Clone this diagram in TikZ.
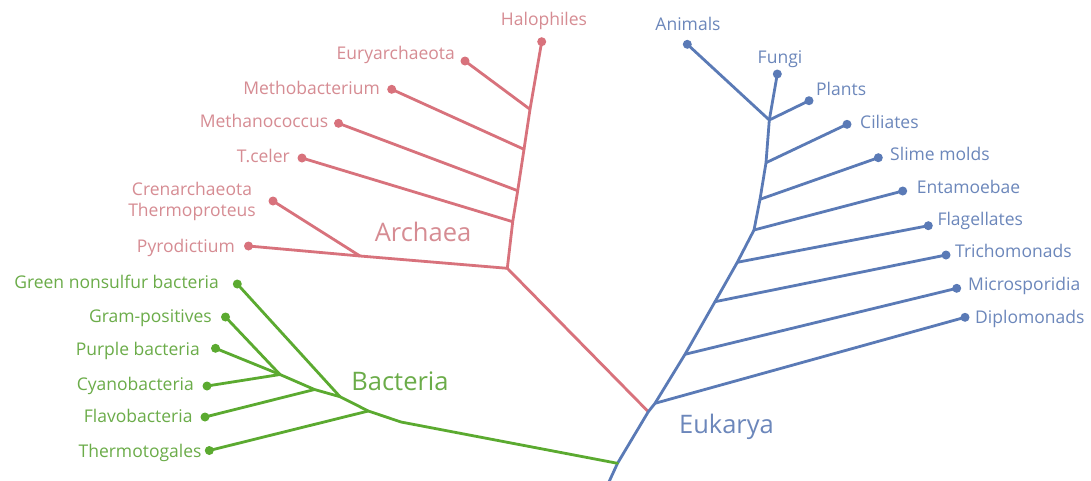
\documentclass[tikz,border=0pt]{standalone}
\usepackage{fontspec}
\setmainfont{Open Sans}
\definecolor{arc}{HTML}{D8727C}
\definecolor{arct}{HTML}{D68C93}
\definecolor{euk}{HTML}{5A7AB6}
\definecolor{eukt}{HTML}{6C87BB}
\definecolor{bac}{HTML}{5BAA30}
\definecolor{bact}{HTML}{6BAC49}
\begin{document}
\begin{tikzpicture}[x=1pt,y=-1pt,
  dot/.style={circle,fill,inner sep=0pt,minimum size=9pt},
  branch/.style={line width=2.8pt,line join=round,line cap=round},
  lbl/.style={font=\fontsize{17.5}{21}\selectfont,inner sep=0pt,text height=12pt,text depth=0pt},
  big/.style={font=\fontsize{25.5}{30}\selectfont,inner sep=0pt}]
\useasboundingbox[fill=white] (0,0) rectangle (1091,480);

% ---------------- Archaea ----------------
\begin{scope}[color=arc]
\node[dot] (halD) at (541.7,41.7) {};
\node[dot] (euryD) at (465,61) {};
\node[dot] (methoD) at (391.7,89.3) {};
\node[dot] (methaD) at (338.5,123.3) {};
\node[dot] (tcD) at (302,158) {};
\node[dot] (crenD) at (273,201) {};
\node[dot] (pyroD) at (248.5,246) {};
\coordinate (aE) at (530,109.3);
\coordinate (aM) at (524,149.3);
\coordinate (aMe) at (517.7,190.7);
\coordinate (aT) at (512.7,221.7);
\coordinate (aB) at (507.3,268.3);
\coordinate (aP) at (360,256);
\coordinate (eA) at (648.3,411.7);
\draw[branch] (halD.center) -- (aE) -- (aM) -- (aMe) -- (aT) -- (aB) -- (eA);
\draw[branch] (euryD.center) -- (aE);
\draw[branch] (methoD.center) -- (aM);
\draw[branch] (methaD.center) -- (aMe);
\draw[branch] (tcD.center) -- (aT);
\draw[branch] (pyroD.center) -- (aP) -- (aB);
\draw[branch] (crenD.center) -- (aP);
\end{scope}
\begin{scope}[color=arct]
\node[lbl] (halL) at (544,19.3) {Halophiles};
\node[lbl,anchor=east] (euryL) at (455,53) {Euryarchaeota};
\node[lbl,anchor=east] (methoL) at (380,88.3) {Methobacterium};
\node[lbl,anchor=east] (methaL) at (328.3,121.7) {Methanococcus};
\node[lbl,anchor=east] (tcL) at (290,156) {T.celer};
\node[font=\fontsize{17.5}{21}\selectfont,inner sep=0pt,align=center] (crenL) at (192,201) {Crenarchaeota\\Thermoproteus};
\node[lbl,anchor=east] (pyroL) at (235,246) {Pyrodictium};
\node[big] (archL) at (423,232) {Archaea};
\end{scope}

% ---------------- Eukarya ----------------
\begin{scope}[color=euk]
\node[dot] (animD) at (687.3,44.3) {};
\node[dot] (fungD) at (777.3,74) {};
\node[dot] (plantD) at (809,100.7) {};
\node[dot] (cilD) at (847,124.3) {};
\node[dot] (slimeD) at (878.3,157.7) {};
\node[dot] (entD) at (902.7,191) {};
\node[dot] (flagD) at (928.3,225.7) {};
\node[dot] (trichD) at (946,255) {};
\node[dot] (microD) at (956.7,288.3) {};
\node[dot] (diploD) at (965,317.3) {};
\coordinate (eBot) at (608,484);
\coordinate (eB) at (617.5,463.3);
\coordinate (eD) at (655,403.3);
\coordinate (eMi) at (685,354.3);
\coordinate (eT) at (715,301.7);
\coordinate (eF) at (737.3,262.3);
\coordinate (eEn) at (754,230);
\coordinate (eS) at (760,199.3);
\coordinate (eC) at (766,162.7);
\coordinate (eAn) at (769.3,120);
\draw[branch] (eBot) -- (eB) -- (eA) -- (eD) -- (eMi) -- (eT) -- (eF) -- (eEn) -- (eS) -- (eC) -- (eAn) -- (fungD.center);
\draw[branch] (animD.center) -- (eAn);
\draw[branch] (plantD.center) -- (eAn);
\draw[branch] (cilD.center) -- (eC);
\draw[branch] (slimeD.center) -- (eS);
\draw[branch] (entD.center) -- (eEn);
\draw[branch] (flagD.center) -- (eF);
\draw[branch] (trichD.center) -- (eT);
\draw[branch] (microD.center) -- (eMi);
\draw[branch] (diploD.center) -- (eD);
\end{scope}
\begin{scope}[color=eukt]
\node[lbl] (animL) at (688,24.5) {Animals};
\node[lbl] (fungL) at (780,57.3) {Fungi};
\node[lbl,anchor=west] (plantL) at (816,89.3) {Plants};
\node[lbl,anchor=west] (cilL) at (860,122.7) {Ciliates};
\node[lbl,anchor=west] (slimeL) at (890,154.3) {Slime molds};
\node[lbl,anchor=west] (entL) at (916.7,187.3) {Entamoebae};
\node[lbl,anchor=west] (flagL) at (937.3,219) {Flagellates};
\node[lbl,anchor=west] (trichL) at (955,251.7) {Trichomonads};
\node[lbl,anchor=west] (microL) at (968,284) {Microsporidia};
\node[lbl,anchor=west] (diploL) at (975,317) {Diplomonads};
\node[big] (eukL) at (726.5,427) {Eukarya};
\end{scope}

% ---------------- Bacteria ----------------
\begin{scope}[color=bac]
\node[dot] (gnsD) at (237.3,284) {};
\node[dot] (gramD) at (225.5,317) {};
\node[dot] (purpD) at (215.5,348.3) {};
\node[dot] (cyanD) at (207,386) {};
\node[dot] (flavD) at (205,417) {};
\node[dot] (thermD) at (209.3,450.5) {};
\coordinate (bPC) at (280,374.5);
\coordinate (bF) at (314.5,389.5);
\coordinate (bG) at (340,396.7);
\coordinate (bT) at (368.3,411);
\coordinate (bK) at (401,422);
\draw[branch] (bPC) -- (bF) -- (bG) -- (bT) -- (bK) -- (eB);
\draw[branch] (gramD.center) -- (bPC);
\draw[branch] (purpD.center) -- (bPC);
\draw[branch] (cyanD.center) -- (bPC);
\draw[branch] (flavD.center) -- (bF);
\draw[branch] (gnsD.center) -- (bG);
\draw[branch] (thermD.center) -- (bT);
\end{scope}
\begin{scope}[color=bact]
\node[lbl,anchor=east] (gnsL) at (219,282.3) {Green nonsulfur bacteria};
\node[lbl,anchor=east] (gramL) at (212,316.7) {Gram-positives};
\node[lbl,anchor=east] (purpL) at (200,349.3) {Purple bacteria};
\node[lbl,anchor=east] (cyanL) at (194,384) {Cyanobacteria};
\node[lbl,anchor=east] (flavL) at (192.7,416.7) {Flavobacteria};
\node[lbl,anchor=east] (thermL) at (201.7,451.7) {Thermotogales};
\node[big] (bacL) at (400,381) {Bacteria};
\end{scope}
\end{tikzpicture}
\end{document}
